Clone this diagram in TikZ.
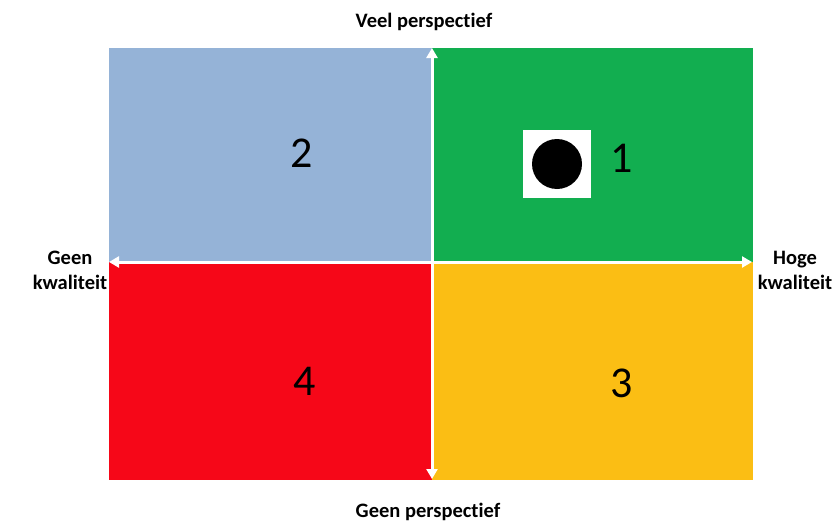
\documentclass[tikz,border=0pt]{standalone}
\usepackage{fontspec}
\setmainfont{Carlito}[Ligatures=NoCommon]
\usepackage{xcolor}
\usepackage{tikz}
\usetikzlibrary{arrows.meta,positioning}

\definecolor{quadblue}{HTML}{95B3D7}
\definecolor{quadgreen}{HTML}{12AE50}
\definecolor{quadred}{HTML}{F60718}
\definecolor{quadyellow}{HTML}{FBBE14}

\tikzset{
	quadnum/.style={font=\fontsize{44}{44}\selectfont, text=black},
	axislabel/.style={font=\fontsize{20.5}{25}\selectfont\bfseries, align=center},
	axisarrow/.style={white, line width=3pt, {Triangle[length=10pt,width=11pt]}-{Triangle[length=10pt,width=11pt]}}
}

\begin{document}
\begin{tikzpicture}[x=1pt,y=-1pt]
		\useasboundingbox (0,0) rectangle (836,522);

		\fill[quadblue] (109,48) rectangle (432,262);
		\fill[quadgreen] (432,48) rectangle (753,262);
		\fill[quadred] (109,262) rectangle (432,480);
		\fill[quadyellow] (432,262) rectangle (753,480);

		\coordinate (top) at (432,48);
		\coordinate (bottom) at (432,479);
		\coordinate (left) at (109,262);
		\coordinate (right) at (752,262);

		\draw[axisarrow] (bottom) -- (top);
		\draw[axisarrow] (left) -- (right);

		\node[quadnum] (q2) at (302,153) {2};
		\node[quadnum] (q1) at (622,158) {1};
		\node[quadnum] (q4) at (305,381) {4};
		\node[quadnum] (q3) at (622,383) {3};

		\node[fill=white, minimum size=68pt, inner sep=0pt] (dotbox) at (557,164) {};
		\node[circle, fill=black, minimum size=50pt, inner sep=0pt] (dot) at (dotbox.center) {};

		\node[axislabel] (veel) at (424,22) {Veel perspectief};
		\node[axislabel] (geenp) at (428,512) {Geen perspectief};
		\node[axislabel] (geenk) at (70,270) {Geen\\kwaliteit};
		\node[axislabel] (hoge) at (795,270) {Hoge\\kwaliteit};
	\end{tikzpicture}
\end{document}
